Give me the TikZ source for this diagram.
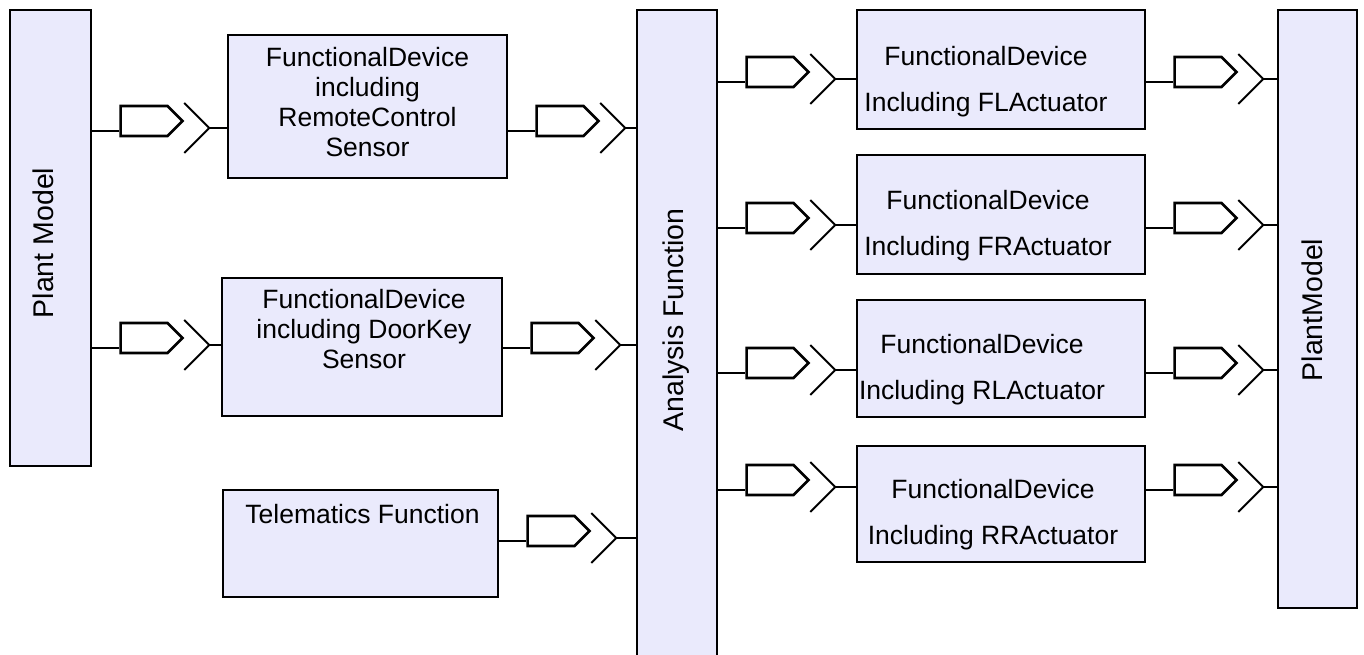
\documentclass[tikz,border=0pt]{standalone}
\usepackage{fontspec}
\setmainfont{Liberation Sans}
\usetikzlibrary{shapes.symbols,calc,positioning}
\definecolor{boxfill}{RGB}{234,234,252}
\tikzstyle{block}=[draw, line width=2.5pt, fill=boxfill, rectangle, inner sep=0pt]
\tikzstyle{lbl}=[font=\fontsize{26.5}{30}\selectfont, align=center, inner sep=0pt, anchor=north]
\tikzstyle{vlbl}=[font=\fontsize{28.5}{34}\selectfont, rotate=90, anchor=base, inner sep=0pt]
\tikzstyle{port}=[draw, line width=2.6pt, shape=signal, signal to=east, signal pointer angle=90,
  minimum width=62pt, minimum height=30pt, inner sep=0pt, anchor=west]
\tikzstyle{wire}=[line width=2pt]
\tikzstyle{socket}=[line width=2pt]

% port from #1 to #2 at height #3, names start with #4
\newcommand{\portlink}[4]{%
  \coordinate (#4out) at (#1.east |- 0,#3);
  \node[port] (#4port) at ([shift={(27,10)}]#4out) {};
  \draw[wire] (#4out) -- (#4out -| #4port.west);
  \coordinate (#4in) at ([shift={(117,3)}]#4out);
  \draw[socket] ([shift={(-25,25)}]#4in) -- (#4in) -- ([shift={(-25,-25)}]#4in);
  \draw[wire] (#4in) -- (#4in -| #2.west);
}

\begin{document}
\begin{tikzpicture}[x=1pt,y=1pt]
  \useasboundingbox (0,0) rectangle (1364,655);
  \clip (0,0) rectangle (1364,655);

  % blocks
  \node[block, minimum width=81pt, minimum height=456pt] (pml) at (50.5,417) {};
  \node[block, minimum width=279pt, minimum height=143pt] (rc) at (367.5,548.5) {};
  \node[block, minimum width=280pt, minimum height=138pt] (dk) at (362,308) {};
  \node[block, minimum width=275pt, minimum height=107pt] (tf) at (360.5,111.5) {};
  \node[block, minimum width=80pt, minimum height=670pt] (af) at (677,310) {};
  \node[block, minimum width=288pt, minimum height=119pt] (fl) at (1001,585.5) {};
  \node[block, minimum width=288pt, minimum height=119pt] (fr) at (1001,440.5) {};
  \node[block, minimum width=288pt, minimum height=117pt] (rl) at (1001,296.5) {};
  \node[block, minimum width=288pt, minimum height=116pt] (rr) at (1001,151) {};
  \node[block, minimum width=79pt, minimum height=598pt] (pmr) at (1317.5,346) {};

  % texts
  \node[vlbl] (pmltext) at (53,412) {Plant Model};
  \node[vlbl] (aftext) at (683,335) {Analysis Function};
  \node[vlbl] (pmrtext) at (1322,345) {PlantModel};
  \node[lbl] (rctext) at ([yshift=-13]rc.north) {FunctionalDevice\\including\\RemoteControl\\Sensor};
  \node[lbl] (dktext) at ([shift={(2,-12)}]dk.north) {FunctionalDevice\\including DoorKey\\Sensor};
  \node[lbl] (tftext) at ([shift={(2,-15)}]tf.north) {Telematics Function};
  \node[lbl] (fltext) at ([shift={(-15,-37)}]fl.north) {FunctionalDevice\\[16pt]Including FLActuator};
  \node[lbl] (frtext) at ([shift={(-13,-36)}]fr.north) {FunctionalDevice\\[16pt]Including FRActuator};
  \node[lbl] (rltext) at ([shift={(-19,-35)}]rl.north) {FunctionalDevice\\[16pt]Including RLActuator};
  \node[lbl] (rrtext) at ([shift={(-8,-34)}]rr.north) {FunctionalDevice\\[16pt]Including RRActuator};

  % ports
  \portlink{pml}{rc}{524}{la}
  \portlink{pml}{dk}{307}{lb}
  \portlink{rc}{af}{524}{ma}
  \portlink{dk}{af}{307}{mb}
  \portlink{tf}{af}{114}{mc}
  \portlink{af}{fl}{573}{ra}
  \portlink{af}{fr}{427}{rb}
  \portlink{af}{rl}{282}{rc}
  \portlink{af}{rr}{165}{rd}
  \portlink{fl}{pmr}{573}{sa}
  \portlink{fr}{pmr}{427}{sb}
  \portlink{rl}{pmr}{282}{sc}
  \portlink{rr}{pmr}{165}{sd}
\end{tikzpicture}
\end{document}
